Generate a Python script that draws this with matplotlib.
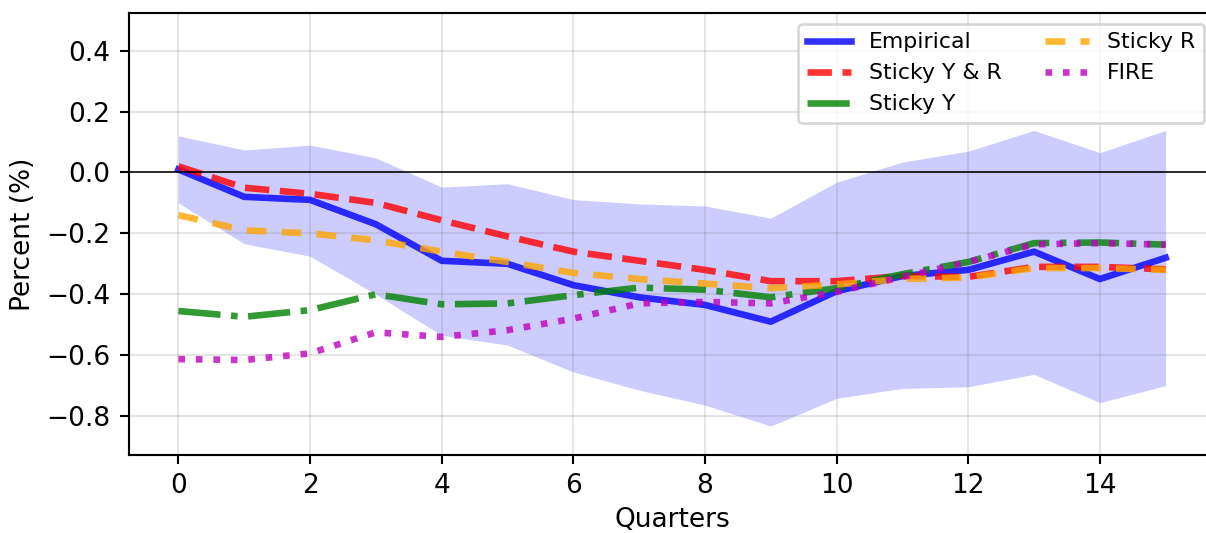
import numpy as np
import matplotlib
matplotlib.use("Agg")
import matplotlib.pyplot as plt

quarters = list(range(16))
empirical = [0.01, -0.08, -0.09, -0.17, -0.29, -0.30, -0.37, -0.41, -0.435, -0.49,
             -0.39, -0.34, -0.32, -0.26, -0.35, -0.28]
band_upper = [0.12, 0.074, 0.09, 0.048, -0.048, -0.037, -0.089, -0.103, -0.11, -0.15,
              -0.032, 0.034, 0.07, 0.138, 0.065, 0.138]
band_lower = [-0.10, -0.234, -0.275, -0.40, -0.535, -0.567, -0.655, -0.715, -0.764, -0.833,
              -0.742, -0.709, -0.704, -0.663, -0.756, -0.70]
sticky_yr = [0.02, -0.05, -0.07, -0.10, -0.157, -0.21, -0.26, -0.29, -0.32, -0.357,
             -0.357, -0.34, -0.343, -0.31, -0.31, -0.318]
sticky_r = [-0.14, -0.19, -0.20, -0.223, -0.26, -0.294, -0.33, -0.35, -0.365, -0.38,
            -0.368, -0.35, -0.345, -0.314, -0.314, -0.32]
sticky_y = [-0.455, -0.474, -0.452, -0.40, -0.433, -0.43, -0.403, -0.378, -0.385, -0.41,
            -0.38, -0.334, -0.294, -0.232, -0.23, -0.237]
fire = [-0.613, -0.616, -0.594, -0.525, -0.54, -0.518, -0.48, -0.43, -0.425, -0.43,
        -0.392, -0.343, -0.294, -0.236, -0.232, -0.237]

dpi = 190
fig = plt.figure(figsize=(1206 / dpi, 533 / dpi), dpi=dpi)
ax = fig.add_axes([0.107, 0.1463, 0.9005, 0.830])

ax.fill_between(quarters, band_lower, band_upper, color="blue", alpha=0.2, linewidth=0)
ax.plot(quarters, empirical, color="blue", lw=2.5, alpha=0.8, label="Empirical")
ax.plot(quarters, sticky_yr, color="red", lw=2.5, ls="--", alpha=0.8, label="Sticky Y & R")
ax.plot(quarters, sticky_y, color="green", lw=2.5, ls="-.", alpha=0.8, label="Sticky Y")
ax.plot(quarters, sticky_r, color="orange", lw=2.5, ls=(0, (3.0, 2.3)), alpha=0.8, label="Sticky R")
ax.plot(quarters, fire, color="m", lw=2.5, ls=":", alpha=0.8, label="FIRE")
ax.axhline(0, color="black", lw=0.6)

ax.set_xlim(-0.75, 15.75)
ax.set_ylim(-0.928, 0.525)
ax.set_xticks([0, 2, 4, 6, 8, 10, 12, 14])
ax.set_yticks([-0.8, -0.6, -0.4, -0.2, 0.0, 0.2, 0.4])
ax.grid(True, color="gray", alpha=0.2, lw=0.8)
ax.set_xlabel("Quarters", labelpad=3)
ax.set_ylabel("Percent (%)")
ax.legend(loc="upper right", ncol=2, fontsize="small")

fig.savefig("out.png", dpi=dpi)
